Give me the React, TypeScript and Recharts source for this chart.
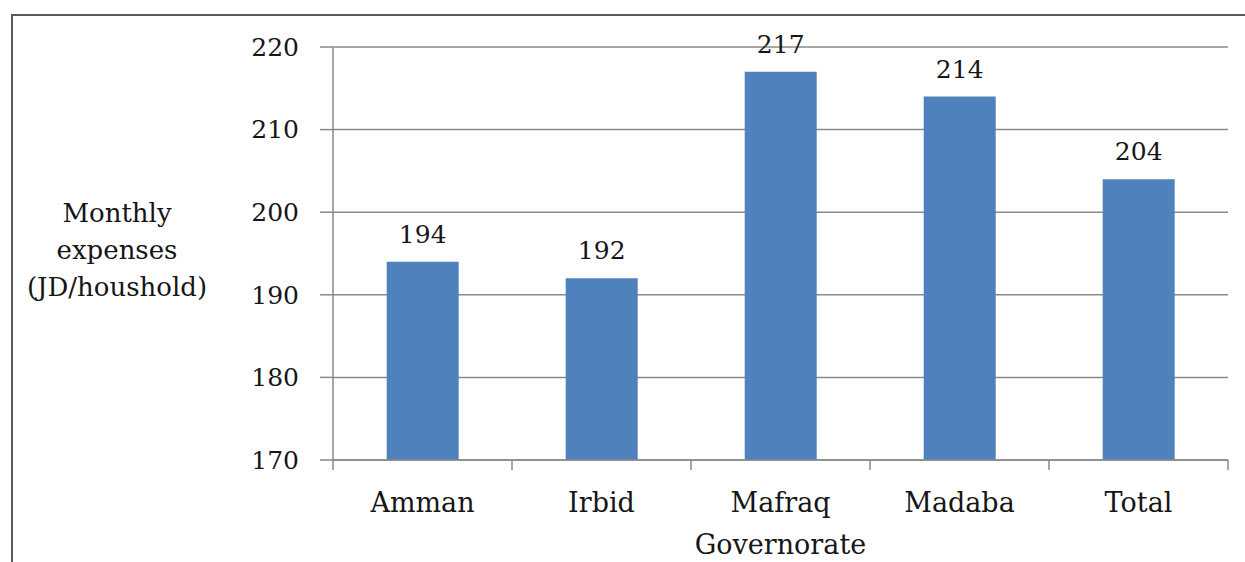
import { BarChart, Bar, XAxis, YAxis, CartesianGrid, LabelList } from 'recharts';

const governorates = ['Amman', 'Irbid', 'Mafraq', 'Madaba', 'Total'];
const monthlyExpenses = [194, 192, 217, 214, 204];
const yTicks = [170, 180, 190, 200, 210, 220];
const yTitleLines = ['Monthly', 'expenses', '(JD/houshold)'];
const xTitle = 'Governorate';

const FONT = '"DejaVu Serif", Cambria, serif';
const TEXT = '#161616';
const GRID = '#8a8a8a';
const BAR = '#4f81bd';

const data = governorates.map((name, i) => ({ name, value: monthlyExpenses[i] }));

// Category tick: label under the band, plus a tick mark on the band's left edge
// (and one on the right edge for the last band), Excel-style.
function CategoryTick(props: any) {
  const { x, y, payload, index, visibleTicksCount } = props;
  const half = payload.offset ?? 0;
  const isLast = index === visibleTicksCount - 1;
  return (
    <g>
      <line x1={x - half} x2={x - half} y1={y} y2={y + 10} stroke={GRID} strokeWidth={1.5} />
      {isLast && <line x1={x + half} x2={x + half} y1={y} y2={y + 10} stroke={GRID} strokeWidth={1.5} />}
      <text x={x} y={y + 52} textAnchor="middle" fontFamily={FONT} fontSize={27} fill={TEXT}>
        {payload.value}
      </text>
    </g>
  );
}

function YTitle() {
  return (
    <text x={117} y={222} textAnchor="middle" fontFamily={FONT} fontSize={26} fill={TEXT}>
      {yTitleLines.map((line, i) => (
        <tspan key={line} x={117} dy={i === 0 ? 0 : 37}>
          {line}
        </tspan>
      ))}
    </text>
  );
}

export default function App() {
  return (
    <div style={{ position: 'absolute', left: 0, top: 0, width: 1245, height: 562, background: '#fff' }}>
      <div style={{ position: 'absolute', left: 11, top: 14, right: 0, height: 0, borderTop: '2px solid #5a5a5a' }} />
      <div style={{ position: 'absolute', left: 11, top: 14, bottom: 0, width: 0, borderLeft: '2px solid #5a5a5a' }} />
      <BarChart
        width={1245}
        height={562}
        data={data}
        margin={{ top: 47, right: 17, bottom: 42, left: 253 }}
        barCategoryGap="30%"
      >
        <CartesianGrid vertical={false} stroke={GRID} strokeWidth={1.5} />
        <XAxis
          dataKey="name"
          height={60}
          axisLine={{ stroke: GRID, strokeWidth: 1.5 }}
          tickLine={false}
          tickSize={0}
          tickMargin={0}
          tick={<CategoryTick />}
          interval={0}
          label={{
            value: xTitle,
            position: 'bottom',
            offset: 15,
            fontFamily: FONT,
            fontSize: 27,
            fill: TEXT,
          }}
        />
        <YAxis
          width={80}
          domain={[170, 220]}
          ticks={yTicks}
          allowDataOverflow
          axisLine={{ stroke: GRID, strokeWidth: 1.5 }}
          tickLine={{ stroke: GRID, strokeWidth: 1.5 }}
          tickSize={13}
          tickMargin={21}
          tick={{ fontFamily: FONT, fontSize: 25, fill: TEXT }}
          label={<YTitle />}
        />
        <Bar dataKey="value" fill={BAR} isAnimationActive={false}>
          <LabelList
            dataKey="value"
            position="top"
            offset={19}
            style={{ fontFamily: FONT, fontSize: 25, fill: TEXT }}
          />
        </Bar>
      </BarChart>
    </div>
  );
}
